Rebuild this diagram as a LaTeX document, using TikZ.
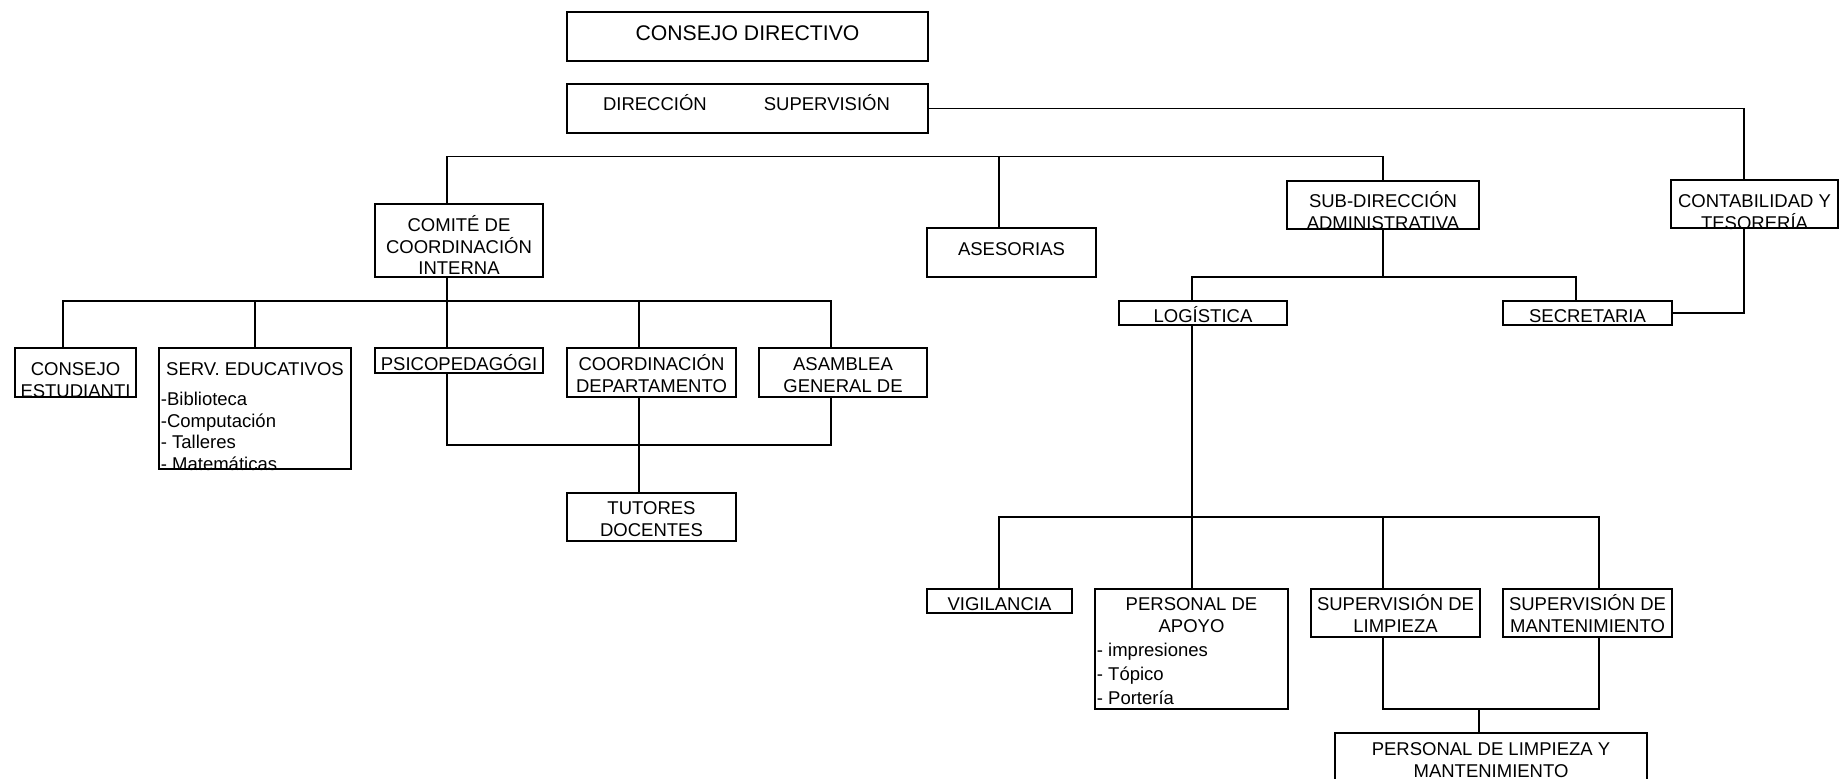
\documentclass[tikz,border=0pt]{standalone}
\usepackage{fontspec}
\setmainfont{Liberation Sans}
\usetikzlibrary{fit,calc}
\tikzset{
  box/.style={draw=black, line width=0.7pt, inner sep=0pt, rectangle},
  txt/.style={inner sep=0pt, anchor=north, text height=6.6pt, text depth=0pt, align=center, font=\fontsize{9.25pt}{10.75pt}\selectfont},
  two/.style={text height=17.35pt},
  three/.style={text height=28.1pt},
  lst/.style={inner sep=0pt, anchor=north west, text depth=0pt, align=left, font=\fontsize{9.25pt}{10.75pt}\selectfont},
  con/.style={draw=black, line width=0.7pt},
}
\begin{document}
\begin{tikzpicture}[x=0.5pt,y=-0.5pt]
\useasboundingbox (0,0) rectangle (1839,779);
\fill[white] (0,0) rectangle (1839,779);
\clip (0,0) rectangle (1839,779);

% top
\node[box, fit={(567,12) (928,61)}] (cd) {};
\node[txt, font=\fontsize{10.6pt}{12pt}\selectfont, text height=7.6pt] (cdt) at (747.5,25) {CONSEJO DIRECTIVO};
\node[box, fit={(567,84) (928,133)}] (dir) {};
\node[txt] (dirt) at (746.5,97) {DIRECCIÓN\hspace{28.5pt}SUPERVISIÓN};

% second level
\node[box, fit={(375,204) (543,277)}] (com) {};
\node[txt, three] (comt) at (459,218) {COMITÉ DE\\COORDINACIÓN\\INTERNA};
\node[box, fit={(927,228) (1096,277)}] (ase) {};
\node[txt] (aset) at (1011.5,242) {ASESORIAS};
\node[box, fit={(1287,181) (1479,229)}] (sub) {};
\node[txt, two] (subt) at (1383,194) {SUB-DIRECCIÓN\\ADMINISTRATIVA};
\node[box, fit={(1671,180) (1838,228)}] (ctb) {};
\node[txt, two] (ctbt) at (1754.5,194) {CONTABILIDAD Y\\TESORERÍA};
\node[box, fit={(1119,301) (1287,325)}] (log) {};
\node[txt] (logt) at (1203,309) {LOGÍSTICA};
\node[box, fit={(1503,301) (1672,325)}] (sec) {};
\node[txt] (sect) at (1587.5,309) {SECRETARIA};

% left row
\node[box, fit={(15,348) (136,397)}] (ces) {};
\node[txt, two] (cest) at (75.5,362) {CONSEJO\\ESTUDIANTI};
\node[box, fit={(159,348) (351,469)}] (srv) {};
\node[txt] (srvt) at (255,362) {SERV. EDUCATIVOS};
\node[lst, text height=38.85pt] (srvl) at (160.5,392) {-Biblioteca\\-Computación\\- Talleres\\- Matemáticas};
\node[box, fit={(375,348) (543,373)}] (psi) {};
\node[txt] (psit) at (459,357) {PSICOPEDAGÓGI};
\node[box, fit={(567,348) (736,397)}] (cdp) {};
\node[txt, two] (cdpt) at (651.5,357) {COORDINACIÓN\\DEPARTAMENTO};
\node[box, fit={(759,348) (927,397)}] (asm) {};
\node[txt, two] (asmt) at (843,357) {ASAMBLEA\\GENERAL DE};
\node[box, fit={(567,493) (736,541)}] (tut) {};
\node[txt, two] (tutt) at (651.5,501) {TUTORES\\DOCENTES};

% bottom right
\node[box, fit={(927,589) (1072,613)}] (vig) {};
\node[txt] (vigt) at (999.5,597) {VIGILANCIA};
\node[box, fit={(1095,589) (1288,709)}] (apo) {};
\node[txt, font=\fontsize{9.25pt}{11pt}\selectfont, text height=17.6pt] (apot) at (1191.5,597) {PERSONAL DE\\APOYO};
\node[lst, font=\fontsize{9.25pt}{12pt}\selectfont, text height=30.6pt] (apol) at (1096.5,643) {- impresiones\\- Tópico\\- Portería};
\node[box, fit={(1311,589) (1480,637)}] (spl) {};
\node[txt, two] (splt) at (1395.5,597) {SUPERVISIÓN DE\\LIMPIEZA};
\node[box, fit={(1503,589) (1672,637)}] (spm) {};
\node[txt, two] (spmt) at (1587.5,597) {SUPERVISIÓN DE\\MANTENIMIENTO};
\node[box, fit={(1335,733) (1647,800)}] (pl) {};
\node[txt, two] (plt) at (1491,742) {PERSONAL DE LIMPIEZA Y\\MANTENIMIENTO};

% connector points
\coordinate (r1) at (1744,108.5);
\coordinate (b1) at (447,156.5);
\coordinate (b2) at (999,156.5);
\coordinate (b3) at (1383,156.5);
\coordinate (c1) at (63,301);
\coordinate (c3) at (447,301);
\coordinate (c4) at (639,301);
\coordinate (c5) at (831,301);
\coordinate (d1) at (447,445);
\coordinate (d2) at (639,445);
\coordinate (d3) at (831,445);
\coordinate (e1) at (1744,313);
\coordinate (f1) at (1192,277);
\coordinate (f2) at (1576,277);
\coordinate (g1) at (999,517);
\coordinate (g2) at (1192,517);
\coordinate (g3) at (1383,517);
\coordinate (g4) at (1599,517);
\coordinate (h1) at (1383,709);
\coordinate (h2) at (1479,709);
\coordinate (h3) at (1599,709);

% connectors
\draw[con] (dir.east) -- (r1) -- (ctb.north -| r1);
\draw[con] (com.north -| b1) -- (b1) -- (b3) -- (sub.north);
\draw[con] (ase.north -| b2) -- (b2);

\draw[con] (com.south -| c3) -- (c3);
\draw[con] (ces.north -| c1) -- (c1) -- (c5) -- (asm.north -| c5);
\draw[con] (srv.north) -- (srv.north |- c1);
\draw[con] (psi.north -| c3) -- (c3);
\draw[con] (cdp.north -| c4) -- (c4);
\draw[con] (psi.south -| d1) -- (d1) -- (d3) -- (asm.south -| d3);
\draw[con] (cdp.south -| d2) -- (tut.north -| d2);

\draw[con] (ctb.south -| e1) -- (e1) -- (sec.east);
\draw[con] (sub.south) -- (sub.south |- f1);
\draw[con] (log.north -| f1) -- (f1) -- (f2) -- (sec.north -| f2);
\draw[con] (log.south -| g2) -- (g2);
\draw[con] (vig.north -| g1) -- (g1) -- (g4) -- (spm.north -| g4);
\draw[con] (apo.north -| g2) -- (g2);
\draw[con] (spl.north -| g3) -- (g3);
\draw[con] (spl.south -| h1) -- (h1) -- (h3) -- (spm.south -| h3);
\draw[con] (h2) -- (pl.north -| h2);
\end{tikzpicture}
\end{document}
